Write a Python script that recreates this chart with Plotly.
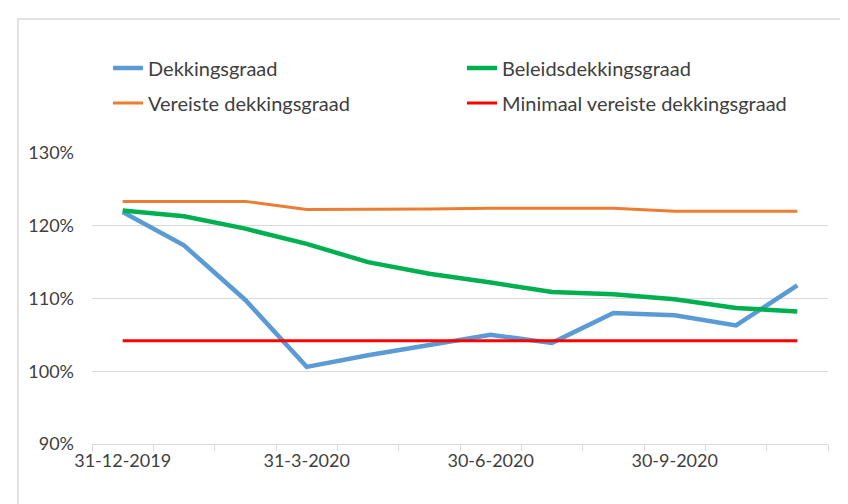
import plotly.graph_objects as go

dates = ["31-12-2019", "31-1-2020", "29-2-2020", "31-3-2020", "30-4-2020", "31-5-2020",
         "30-6-2020", "31-7-2020", "31-8-2020", "30-9-2020", "31-10-2020", "30-11-2020"]
tick_labels = ["31-12-2019", "", "", "31-3-2020", "", "", "30-6-2020", "", "", "30-9-2020", "", ""]

dekkingsgraad = [121.9, 117.3, 109.8, 100.6, 102.2, 103.6, 105.0, 103.9, 108.0, 107.7, 106.3, 111.8]
beleidsdekkingsgraad = [122.1, 121.3, 119.6, 117.5, 115.0, 113.4, 112.2, 110.9, 110.6, 109.9, 108.7, 108.2]
vereiste = [123.35, 123.35, 123.35, 122.25, 122.25, 122.3, 122.4, 122.4, 122.4, 122.0, 122.0, 122.0]
minimaal = [104.2, 104.2, 104.2, 104.2, 104.2, 104.2, 104.2, 104.2, 104.2, 104.2, 104.2, 104.2]

FONT = "Lato"
TXT = "#404040"
GRID = "#d9d9d9"

fig = go.Figure()
fig.add_trace(go.Scatter(x=dates, y=dekkingsgraad, mode="lines", name="Dekkingsgraad",
                         line=dict(color="#5B9BD5", width=4.5), legend="legend"))
fig.add_trace(go.Scatter(x=dates, y=beleidsdekkingsgraad, mode="lines", name="Beleidsdekkingsgraad",
                         line=dict(color="#00B050", width=4.5), legend="legend"))
fig.add_trace(go.Scatter(x=dates, y=vereiste, mode="lines", name="Vereiste dekkingsgraad",
                         line=dict(color="#ED7D31", width=3), legend="legend2"))
fig.add_trace(go.Scatter(x=dates, y=minimaal, mode="lines", name="Minimaal vereiste dekkingsgraad",
                         line=dict(color="#FF0000", width=3), legend="legend2"))

L, R, T, B = 84, 28, 145, 68
W, H = 848, 504
pw, ph = W - L - R, H - T - B

def px_x(px):
    return (px - L) / pw

def px_y(py):
    return (H - B - py) / ph

legend_common = dict(orientation="h", xanchor="left", yanchor="middle",
                     font=dict(family=FONT, size=20, color=TXT),
                     entrywidth=309, entrywidthmode="pixels",
                     bgcolor="rgba(0,0,0,0)", borderwidth=0, itemwidth=30)

fig.update_layout(
    width=W, height=H,
    margin=dict(l=L, r=R, t=T, b=B, autoexpand=False),
    paper_bgcolor="white", plot_bgcolor="white",
    font=dict(family=FONT, size=18, color=TXT),
    showlegend=True,
    legend=dict(x=px_x(100), y=px_y(60), **legend_common),
    legend2=dict(x=px_x(100), y=px_y(95), **legend_common),
    xaxis=dict(type="category", categoryorder="array", categoryarray=dates,
               tickmode="array", tickvals=dates, ticktext=tick_labels, tickangle=0,
               tickson="boundaries", ticks="outside", ticklen=6, tickcolor=GRID, tickwidth=1,
               showline=True, linecolor=GRID, linewidth=1, showgrid=False, automargin=False,
               range=[-0.5, len(dates) - 0.5],
               tickfont=dict(family=FONT, size=18, color=TXT)),
    yaxis=dict(range=[90, 130], tickmode="linear", tick0=90, dtick=10, ticksuffix="%",
               showgrid=True, gridcolor=GRID, gridwidth=1, zeroline=False, automargin=False,
               showline=False, ticks="", ticklabelstandoff=17,
               tickfont=dict(family=FONT, size=18, color=TXT)),
    shapes=[dict(type="rect", xref="paper", yref="paper",
                 x0=px_x(10), x1=px_x(860), y0=px_y(520), y1=px_y(11),
                 line=dict(color=GRID, width=1.5), fillcolor="rgba(0,0,0,0)", layer="below")],
)

fig.write_html("out.html")
